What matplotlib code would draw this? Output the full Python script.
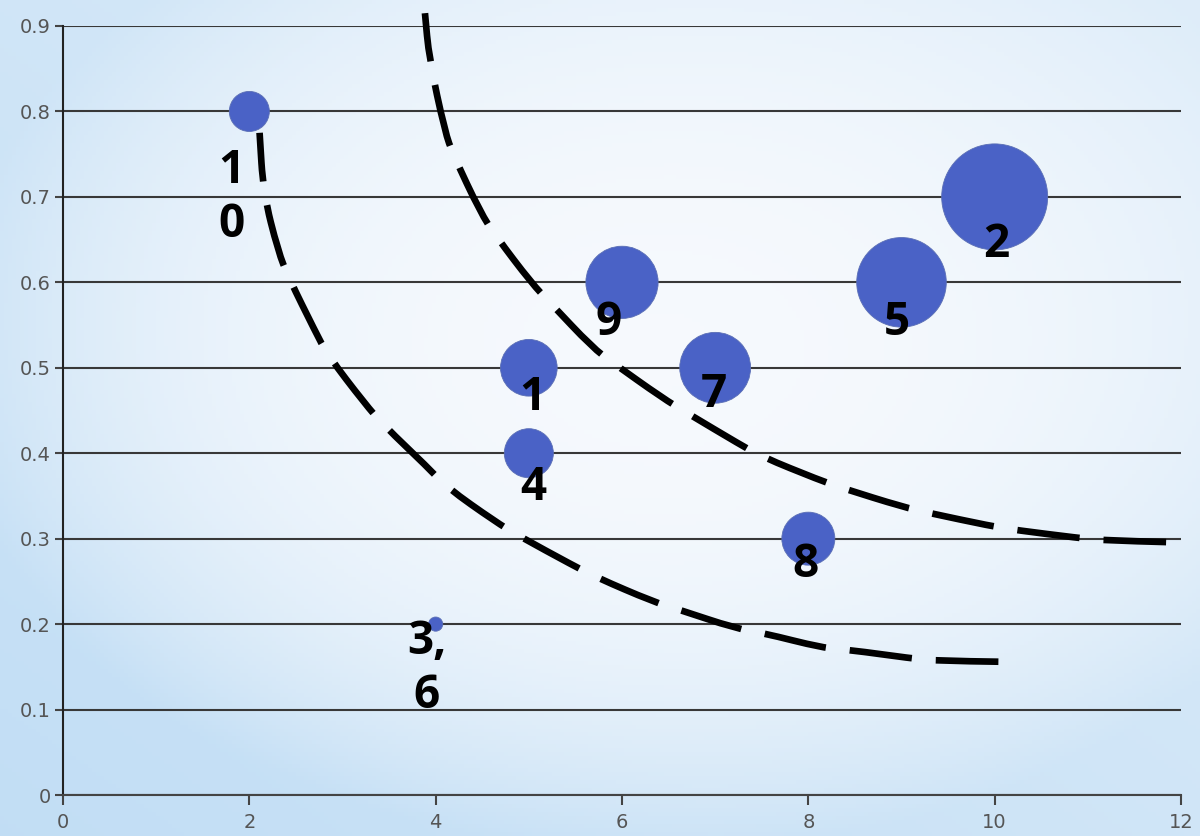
import matplotlib
matplotlib.use("Agg")
import matplotlib.pyplot as plt
from matplotlib.path import Path
from matplotlib.patches import PathPatch
import numpy as np

# bubble data (labels as written on the chart)
point_labels = ['1', '2', '3,\n6', '4', '5', '7', '8', '9', '1\n0']
x_vals = [5, 10, 4, 5, 9, 7, 8, 6, 2]
y_vals = [0.5, 0.7, 0.2, 0.4, 0.6, 0.5, 0.3, 0.6, 0.8]
bubble_vals = [16, 56, 1, 12, 40, 25, 14, 26, 8]

# dashed boundary curves
low_x = [2.11, 2.15, 2.31, 2.42, 2.71, 2.84, 3.24, 3.44, 3.91, 4.12, 4.64, 4.88,
         5.47, 5.72, 6.34, 6.61, 7.22, 7.50, 8.16, 8.43, 9.10, 9.37, 10.04]
low_y = [0.775, 0.705, 0.636, 0.606, 0.542, 0.515, 0.458, 0.433, 0.384, 0.360, 0.320, 0.304,
         0.269, 0.255, 0.226, 0.217, 0.195, 0.190, 0.172, 0.170, 0.160, 0.157, 0.156]
high_x = [3.885, 3.93, 4.10, 4.19, 4.48, 4.64, 5.03, 5.23, 5.68, 5.90, 6.43, 6.70,
          7.27, 7.50, 8.11, 8.37, 9.02, 9.30, 9.95, 10.23, 10.89, 11.15, 11.84]
high_y = [0.915, 0.862, 0.776, 0.749, 0.682, 0.655, 0.599, 0.576, 0.524, 0.506, 0.465, 0.447,
          0.410, 0.396, 0.369, 0.359, 0.337, 0.330, 0.315, 0.310, 0.301, 0.298, 0.296]

# label placement, pixels from bubble centre
label_offsets = [(4, -30), (2, -48), (-9, -44), (4, -34), (-5, -40), (-1, -27), (-3, -26), (-13, -40), (-18, -86)]

fig = plt.figure(figsize=(12, 8.36), dpi=100)

# soft blue background, bluer towards the lower left
bg = fig.add_axes([0, 0, 1, 1], zorder=0)
gx, gy = np.meshgrid(np.linspace(0, 1, 300), np.linspace(0, 1, 210))
t = np.clip(np.sqrt(((gx - 0.55) / 0.6) ** 2 + ((gy - 0.42) / 0.6) ** 2), 0, 1) ** 2.4
w = 0.5 * (1 - gx) + 0.5 * gy
t = t * (0.45 + 0.55 * w)
white = np.array([0.965, 0.978, 0.993])
blue = np.array([0.76, 0.87, 0.96])
img = white * (1 - t[..., None]) + blue * t[..., None]
bg.imshow(img, extent=[0, 1, 0, 1], aspect='auto', origin='upper')
bg.axis('off')

ax = fig.add_axes([0.0525, 0.04904, 0.93167, 0.91986], zorder=1)
ax.patch.set_alpha(0)

ax.set_xlim(0, 12)
ax.set_ylim(0, 0.9)
ax.set_xticks(range(0, 13, 2))
ax.set_yticks(np.arange(0, 0.95, 0.1))
ax.set_yticklabels(['0'] + ['%.1f' % v for v in np.arange(0.1, 0.95, 0.1)])
ax.yaxis.grid(True, color='#383838', lw=1.5)
ax.set_axisbelow(True)

for s in ['top', 'right']:
    ax.spines[s].set_visible(False)
ax.spines['left'].set_color('#222222')
ax.spines['left'].set_linewidth(1.5)
ax.spines['bottom'].set_color('#444444')
ax.spines['bottom'].set_linewidth(1.5)
ax.tick_params(axis='x', direction='out', length=7, width=1.5, color='#444444',
               pad=6, labelsize=14, labelcolor='#555555')
ax.tick_params(axis='y', direction='out', length=6, width=1.5, color='#444444',
               pad=3, labelsize=14, labelcolor='#555555')

ax.scatter(x_vals, y_vals, s=[v * 104 for v in bubble_vals], color='#4a62c6',
           edgecolors='#5b6fb5', linewidths=0.6, zorder=3, clip_on=False)

for xc, yc, lab, off in zip(x_vals, y_vals, point_labels, label_offsets):
    ax.annotate(lab, (xc, yc), xytext=off, textcoords='offset pixels',
                ha='center', va='center', ma='center', fontsize=33,
                fontweight='bold', family='Open Sans', color='black', zorder=5)

# smooth dashed curves: read points used as bezier controls
for cx, cy in [(low_x, low_y), (high_x, high_y)]:
    p = np.column_stack([cx[::-1], cy[::-1]])
    verts = [p[0]]
    codes = [Path.MOVETO]
    for i in range(1, len(p) - 1):
        verts += [p[i], (p[i] + p[i + 1]) / 2]
        codes += [Path.CURVE3, Path.CURVE3]
    verts.append(p[-1])
    codes.append(Path.LINETO)
    patch = PathPatch(Path(verts, codes), fill=False, edgecolor='black', lw=4.8,
                      linestyle=(0, (9.4, 3.6)), capstyle='butt', zorder=4, clip_on=False)
    ax.add_patch(patch)

plt.savefig('out.png', dpi=100)
